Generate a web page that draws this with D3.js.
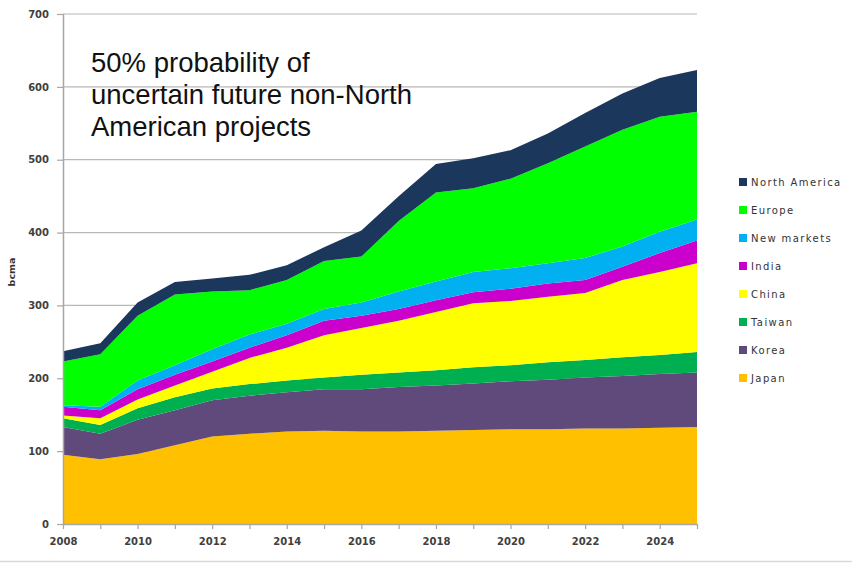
<!DOCTYPE html>
<html><head><meta charset="utf-8">
<script src="https://cdn.jsdelivr.net/npm/d3@7/dist/d3.min.js"></script>
<style>body{margin:0;background:#fff;}svg{display:block;}</style>
</head><body><svg id="c" width="852" height="563"></svg>
<script>
const years = [2008,2009,2010,2011,2012,2013,2014,2015,2016,2017,2018,2019,2020,2021,2022,2023,2024,2025];
const japan   = [95,89,96,108,120,124,127,128,127,127,128,129,130,130,131,131,132,133];
const korea   = [38,35,47,48,50,52,54,57,58,61,62,64,66,68,70,72,74,75];
const taiwan  = [12,12,16,18,16,16,16,16,20,20,21,22,22,24,24,26,26,28];
const china   = [4,9,12,16,23,36,45,58,64,71,80,88,88,90,92,106,114,122];
const india   = [12,11,14,15,14,14,17,20,17,16,16,15,17,18,18,18,26,31];
const newMarkets = [2,5,12,13,17,18,16,16,18,24,26,28,28,28,30,28,29,29];
const europe  = [60,72,89,97,79,61,60,66,63,97,122,115,123,137,153,160,158,148];
const northAmerica = [14,15,18,17,18,21,20,19,36,34,39,41,39,41,46,50,53,57];
const seriesNames = ["Japan","Korea","Taiwan","China","India","New markets","Europe","North America"];
const seriesColors = ["#ffc000","#604a7b","#00b050","#ffff00","#cc00cc","#00b0f0","#00ff00","#1b375c"];
const yTicks = [0,100,200,300,400,500,600,700];
const xTickLabels = [2008,2010,2012,2014,2016,2018,2020,2022,2024];
const yLabel = "bcma";
const noteLines = ["50% probability of","uncertain future non-North","American projects"];

const seriesVals = [japan,korea,taiwan,china,india,newMarkets,europe,northAmerica];
const rows = years.map((y,i)=>{const r={year:y}; seriesNames.forEach((n,k)=>r[n]=seriesVals[k][i]); return r;});

const svg = d3.select("#c");
const x = d3.scaleLinear().domain([2008,2025]).range([63,697]);
const y = d3.scaleLinear().domain([0,700]).range([524,14]);

// gridlines
svg.append("g").selectAll("line").data(yTicks.filter(t=>t>0)).join("line")
  .attr("x1",63).attr("x2",697).attr("y1",d=>y(d)).attr("y2",d=>y(d))
  .attr("stroke","#b8b8b8").attr("stroke-width",1.2);

const stack = d3.stack().keys(seriesNames);
const layers = stack(rows);
const area = d3.area().x(d=>x(d.data.year)).y0(d=>y(d[0])).y1(d=>y(d[1]));
svg.append("g").selectAll("path").data(layers).join("path")
  .attr("d",area).attr("fill",(d,i)=>seriesColors[i]);

// axes
const yAxis = d3.axisLeft(y).tickValues(yTicks).tickSize(6).tickPadding(8);
const gy = svg.append("g").attr("transform","translate(63,0)").call(yAxis);
const xAxis = d3.axisBottom(x).tickValues(years).tickSize(5).tickPadding(9)
  .tickFormat(d=>xTickLabels.includes(d)?d:"");
const gx = svg.append("g").attr("transform","translate(0,524)").call(xAxis);
[gx,gy].forEach(g=>{
  g.selectAll(".domain").attr("stroke","#a6a6a6").attr("stroke-width",1.5);
  g.selectAll(".tick line").attr("stroke","#a6a6a6").attr("stroke-width",1.2);
  g.selectAll("text").attr("font-family","DejaVu Sans, Verdana, sans-serif")
   .attr("font-size",10).attr("font-weight","bold").attr("fill","#404040");
});
gx.select(".domain").attr("d","M63,0.5H697");
gy.select(".domain").attr("d","M0.5,14V524");

svg.append("text").attr("transform","translate(15,272) rotate(-90)")
  .attr("text-anchor","middle").attr("font-family","DejaVu Sans, Verdana, sans-serif")
  .attr("font-size",9.5).attr("font-weight","bold").attr("fill","#333").text(yLabel);

// annotation
svg.append("g").selectAll("text").data(noteLines).join("text")
  .attr("x",91).attr("y",(d,i)=>72+i*32)
  .attr("font-family","Liberation Sans, Arial, sans-serif").attr("font-size",27.5)
  .attr("fill","#111").text(d=>d);

// legend
const legendOrder = seriesNames.map((n,i)=>({n,c:seriesColors[i]})).reverse();
const lg = svg.append("g").selectAll("g").data(legendOrder).join("g")
  .attr("transform",(d,i)=>`translate(739,${182+i*28})`);
lg.append("rect").attr("x",0).attr("y",-4).attr("width",8).attr("height",8).attr("fill",d=>d.c);
lg.append("text").attr("x",12).attr("y",3.5)
  .attr("font-family","DejaVu Sans, Verdana, sans-serif").attr("font-size",10)
  .attr("letter-spacing",1.4).attr("fill","#333").text(d=>d.n);

// bottom separator
svg.append("line").attr("x1",0).attr("x2",852).attr("y1",561.5).attr("y2",561.5)
  .attr("stroke","#d9d9d9").attr("stroke-width",1.5);
</script></body></html>
